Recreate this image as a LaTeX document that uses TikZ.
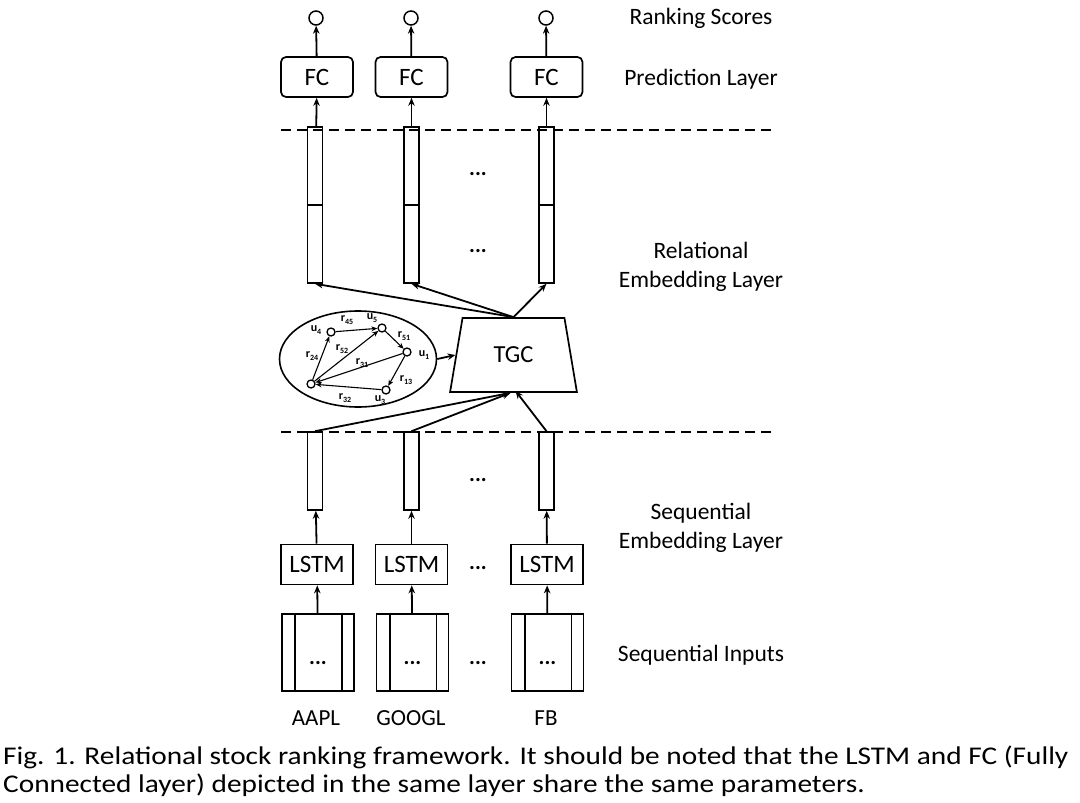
\documentclass[tikz,border=0pt]{standalone}
\usepackage{fontspec}
\setmainfont{Carlito}
\newfontfamily\capfont[FakeStretch=1.15]{Carlito}
\usetikzlibrary{arrows.meta,shapes.geometric}
\newcommand\glab[2]{\textbf{#1}\raisebox{-2.5pt}{\fontsize{8}{8}\selectfont\textbf{#2}}}
\begin{document}
\begin{tikzpicture}[x=1pt,y=-1pt,
  box/.style={draw, line width=1.7pt, minimum width=72pt, minimum height=40pt, inner sep=0pt, font=\fontsize{25}{25}\selectfont},
  fcbox/.style={box, rounded corners=5pt},
  bar/.style={draw, line width=1.6pt, minimum width=15pt, inner sep=0pt},
  inbox/.style={draw, line width=1.7pt, minimum width=72pt, minimum height=77pt, inner sep=0pt},
  arr/.style={-{Stealth[length=8pt,width=6.5pt]}, line width=1.8pt},
  garr/.style={-{Stealth[length=6pt,width=5pt]}, line width=1.1pt},
  gnode/.style={circle, draw, line width=1.3pt, minimum size=8pt, inner sep=0pt},
  score/.style={circle, draw, line width=1.5pt, minimum size=14pt, inner sep=0pt},
  lbl/.style={font=\fontsize{23.5}{29}\selectfont, align=center},
  nlbl/.style={font=\fontsize{23}{23}\selectfont},
  dots/.style={font=\fontsize{22}{22}\selectfont\bfseries, inner sep=0pt},
  glbl/.style={font=\fontsize{12}{12}\selectfont, inner sep=0pt},
  dline/.style={dashed, dash pattern=on 10pt off 6pt, line width=1.8pt},
  captxt/.style={font=\capfont\fontsize{25.5}{25.5}\selectfont, anchor=west, inner sep=0pt}]
\useasboundingbox (0,0) rectangle (1080,803);

% ranking scores
\node[score] (rs1) at (316,18) {};
\node[score] (rs2) at (411,18) {};
\node[score] (rs3) at (546,18) {};
% FC boxes
\node[fcbox] (fc1) at (317,77) {FC};
\node[fcbox] (fc2) at (411.5,77) {FC};
\node[fcbox] (fc3) at (546.5,77) {FC};
\draw[arr] (fc1) -- (rs1);
\draw[arr] (fc2) -- (rs2);
\draw[arr] (fc3) -- (rs3);

% dashed lines
\coordinate (d1a) at (281,130);
\coordinate (d1b) at (776,130);
\coordinate (d2a) at (281,432);
\coordinate (d2b) at (776,432);
\draw[dline] (d1a) -- (d1b);
\draw[dline] (d2a) -- (d2b);

% relational embedding bars
\node[bar, minimum height=156pt] (rel1) at (315,205) {};
\node[bar, minimum height=156pt] (rel2) at (411.5,205) {};
\node[bar, minimum height=156pt] (rel3) at (546.5,205) {};
\draw[line width=1.6pt] (rel1.west) -- (rel1.east);
\draw[line width=1.6pt] (rel2.west) -- (rel2.east);
\draw[line width=1.6pt] (rel3.west) -- (rel3.east);
\draw[arr] (rel1) -- (fc1);
\draw[arr] (rel2) -- (fc2);
\draw[arr] (rel3) -- (fc3);
\node[dots] (rd1) at (478,174) {...};
\node[dots] (rd2) at (478,251) {...};

% graph ellipse
\node[ellipse, draw, line width=1.6pt, minimum width=157pt, minimum height=96pt] (graph) at (358,359) {};
\node[gnode] (u4) at (331,332) {};
\node[gnode] (u5) at (382,328) {};
\node[gnode] (u1) at (407,352) {};
\node[gnode] (u3) at (386,390) {};
\node[gnode] (u2) at (311,384) {};
\draw[garr] (u4) -- (u5);
\draw[garr] (u5) -- (u1);
\draw[garr] (u2) -- (u4);
\draw[garr] (u2) -- (u5);
\draw[garr] (u1) -- (u2);
\draw[garr] (u3) -- (u2);
\draw[garr] (u1) -- (u3);
\node[glbl] (lu4) at (316,330) {\glab{u}{4}};
\node[glbl] (lu5) at (372,318) {\glab{u}{5}};
\node[glbl] (lu1) at (424,355) {\glab{u}{1}};
\node[glbl] (lu3) at (380,400) {\glab{u}{3}};
\node[glbl] (l45) at (347,320) {\glab{r}{45}};
\node[glbl] (l51) at (404,336) {\glab{r}{51}};
\node[glbl] (l24) at (312,356) {\glab{r}{24}};
\node[glbl] (l52) at (342,349) {\glab{r}{52}};
\node[glbl] (l31) at (362,363) {\glab{r}{31}};
\node[glbl] (l13) at (406,380) {\glab{r}{13}};
\node[glbl] (l32) at (345,398) {\glab{r}{32}};

% TGC
\node[trapezium, draw, line width=1.7pt, trapezium stretches=true, minimum width=127pt, minimum height=74pt, trapezium left angle=76, trapezium right angle=76, font=\fontsize{24.5}{24.5}\selectfont] (tgc) at (513.5,355) {TGC};
\draw[arr] (graph.east) -- (tgc.west);
\draw[arr] (tgc.north) -- (rel1.south);
\draw[arr] (tgc.north) -- (rel2.south);
\draw[arr] (tgc.north) -- (rel3.south);

% sequential embedding bars
\node[bar, minimum height=78pt] (seq1) at (315,471) {};
\node[bar, minimum height=78pt] (seq2) at (411.5,471) {};
\node[bar, minimum height=78pt] (seq3) at (546.5,471) {};
\draw[arr] (seq1.north) -- ([xshift=-3pt]tgc.south);
\draw[arr] (seq2.north) -- ([xshift=-3pt]tgc.south);
\draw[arr] (seq3.north) -- ([xshift=2pt,yshift=2pt]tgc.south);
\node[dots] (sd1) at (478,480) {...};

% LSTM
\node[box] (ls1) at (317,564.5) {LSTM};
\node[box] (ls2) at (411.5,564.5) {LSTM};
\node[box] (ls3) at (547,564.5) {LSTM};
\node[dots] (ld) at (478,568) {...};
\draw[arr] (ls1) -- (seq1);
\draw[arr] (ls2) -- (seq2);
\draw[arr] (ls3) -- (seq3);

% inputs
\node[inbox] (in1) at (318,652.5) {};
\node[inbox] (in2) at (412.5,652.5) {};
\node[inbox] (in3) at (547.5,652.5) {};
\foreach \n in {in1,in2,in3}{
  \draw[line width=1.7pt] ([xshift=14pt]\n.north west) -- ([xshift=14pt]\n.south west);
  \draw[line width=1.7pt] ([xshift=-13pt]\n.north east) -- ([xshift=-13pt]\n.south east);
}
\node[dots] (id1) at (318,663) {...};
\node[dots] (id2) at (412.5,663) {...};
\node[dots] (id3) at (547.5,663) {...};
\node[dots] (idm) at (478,663) {...};
\draw[arr] (in1) -- (ls1);
\draw[arr] (in2) -- (ls2);
\draw[arr] (in3) -- (ls3);
\node[nlbl] (t1) at (316,718) {AAPL};
\node[nlbl] (t2) at (411,718) {GOOGL};
\node[nlbl] (t3) at (546,718) {FB};

% right labels
\node[lbl] (rsL) at (701,18) {Ranking Scores};
\node[lbl] (plL) at (701,79) {Prediction Layer};
\node[lbl] (reL) at (701,266.5) {Relational\\Embedding Layer};
\node[lbl] (seL) at (701,527.5) {Sequential\\Embedding Layer};
\node[lbl] (siL) at (701,655) {Sequential Inputs};

% caption
\node[captxt] (c1) at (3,757) {Fig. 1. Relational stock ranking framework. It should be noted that the LSTM and FC (Fully};
\node[captxt] (c2) at (3,785) {Connected layer) depicted in the same layer share the same parameters.};
\end{tikzpicture}
\end{document}
